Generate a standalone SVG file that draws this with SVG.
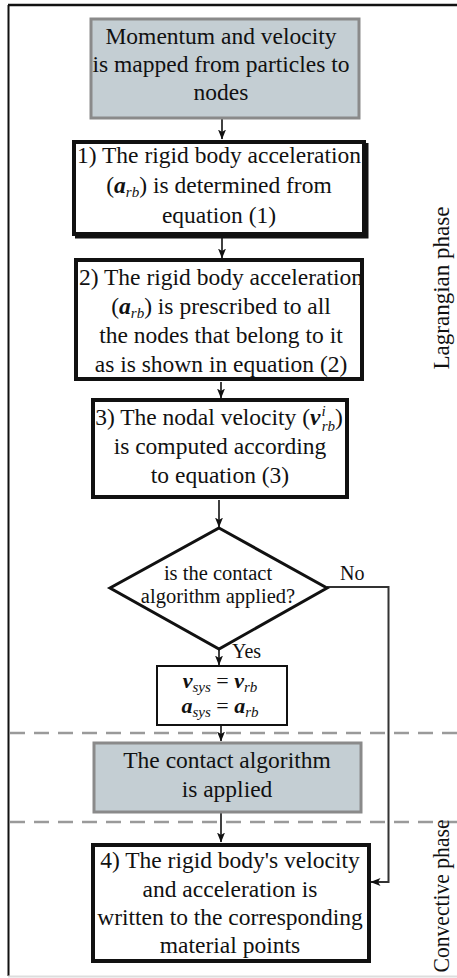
<svg xmlns="http://www.w3.org/2000/svg" width="457" height="978" viewBox="0 0 457 978">
<defs>
<marker id="ah" viewBox="0 0 10 8" refX="9.5" refY="4" markerWidth="10" markerHeight="8" markerUnits="userSpaceOnUse" orient="auto">
<path d="M0,0 L10,4 L0,8 L2.5,4 z" fill="#111"/>
</marker>
<style>
text{font-family:'Liberation Serif',Tinos,'Times New Roman',Times,'Nimbus Roman','Nimbus Roman No9 L',FreeSerif,'DejaVu Serif','Noto Serif',serif}
.t{font-size:23.5px;fill:#111;text-anchor:middle}
.s{font-size:20.5px;fill:#111;text-anchor:middle}
.lab{font-size:20px;fill:#111}
.side{font-size:23px;fill:#111;text-anchor:middle}
.bi{font-style:italic;font-weight:bold}
.sub{font-style:italic;font-size:15px}
.gray{fill:#c4ced3;stroke:#8a8a8a;stroke-width:3}
.thick{fill:#fff;stroke:#111;stroke-width:4}
.thin{fill:#fff;stroke:#111;stroke-width:2}
.sh{fill:none;stroke:#111;stroke-width:3}
.dash{stroke:#9a9a9a;stroke-width:2.5;stroke-dasharray:15 9;fill:none}
.con{stroke:#111;stroke-width:1.6;fill:none}
.conr{stroke:#333;stroke-width:2;fill:none}
</style>
</defs>
<rect x="0" y="0" width="457" height="978" fill="#fff"/>
<g id="frame">
<line x1="8" y1="5" x2="457" y2="5" stroke="#111" stroke-width="2.5"/>
<line x1="8.5" y1="5" x2="8.5" y2="976" stroke="#111" stroke-width="2"/>
<line x1="8" y1="976.5" x2="457" y2="976.5" stroke="#ddd" stroke-width="2"/>
</g>
<g id="phases">
<line class="dash" x1="10" y1="733" x2="457" y2="733"/>
<line class="dash" x1="10" y1="822" x2="457" y2="822"/>
<text class="side" transform="translate(449,288) rotate(-90)" textLength="163" lengthAdjust="spacingAndGlyphs">Lagrangian phase</text>
<text class="side" transform="translate(449,896) rotate(-90)" textLength="153" lengthAdjust="spacingAndGlyphs">Convective phase</text>
</g>
<g id="connectors">
<line class="con" x1="222" y1="119" x2="222" y2="139" marker-end="url(#ah)"/>
<line class="con" x1="222" y1="237" x2="222" y2="258" marker-end="url(#ah)"/>
<line class="con" x1="221" y1="382" x2="221" y2="398" marker-end="url(#ah)"/>
<line class="con" x1="219" y1="500" x2="219" y2="527" marker-end="url(#ah)"/>
<line class="con" x1="219" y1="650" x2="219" y2="665" marker-end="url(#ah)"/>
<line class="con" x1="221" y1="726" x2="221" y2="741" marker-end="url(#ah)"/>
<line class="con" x1="221" y1="813" x2="221" y2="842" marker-end="url(#ah)"/>
<polyline class="conr" points="327,587 388.5,587 388.5,882 371,882" marker-end="url(#ah)"/>
<text class="lab" x="340" y="580">No</text>
<text class="lab" x="232" y="658">Yes</text>
</g>
<g id="n0">
<rect class="gray" x="91" y="19" width="268" height="99"/>
<text class="t" x="221" y="44">Momentum and velocity</text>
<text class="t" x="221" y="72">is mapped from particles to</text>
<text class="t" x="221" y="100">nodes</text>
</g>
<g id="n1">
<rect class="thick" x="74" y="142" width="290" height="92"/>
<polyline class="sh" points="367,143 367,237 75,237"/>
<text class="t" x="219" y="163">1) The rigid body acceleration</text>
<text class="t" x="219" y="193">(<tspan class="bi">a</tspan><tspan class="sub" dy="4">rb</tspan><tspan dy="-4">) is determined from</tspan></text>
<text class="t" x="219" y="223">equation (1)</text>
</g>
<g id="n2">
<rect class="thick" x="76" y="260" width="286" height="119"/>
<text class="t" x="221" y="285">2) The rigid body acceleration</text>
<text class="t" x="221" y="314">(<tspan class="bi">a</tspan><tspan class="sub" dy="4">rb</tspan><tspan dy="-4">) is prescribed to all</tspan></text>
<text class="t" x="221" y="343">the nodes that belong to it</text>
<text class="t" x="221" y="372">as is shown in equation (2)</text>
</g>
<g id="n3">
<rect class="thick" x="93" y="400" width="254" height="97"/>
<text class="t" x="219" y="425">3) The nodal velocity  (<tspan class="bi">v</tspan><tspan class="sub" dx="1" dy="-9">i</tspan><tspan class="sub" dx="-4" dy="15">rb</tspan><tspan dy="-6">)</tspan></text>
<text class="t" x="220" y="454">is computed according</text>
<text class="t" x="220" y="483">to equation (3)</text>
</g>
<g id="n4">
<polygon points="219,528 327,588 219,649 110,588" fill="#fff" stroke="#111" stroke-width="3" stroke-linejoin="miter"/>
<text class="s" x="218" y="580">is the contact</text>
<text class="s" x="218" y="603">algorithm applied?</text>
</g>
<g id="n5">
<rect class="thin" x="157" y="666" width="130" height="59"/>
<text class="s" x="220" y="688" style="font-size:22px"><tspan class="bi">v</tspan><tspan class="sub" dy="4">sys</tspan><tspan dy="-4"> = </tspan><tspan class="bi">v</tspan><tspan class="sub" dy="4">rb</tspan></text>
<text class="s" x="220" y="713" style="font-size:22px"><tspan class="bi">a</tspan><tspan class="sub" dy="4">sys</tspan><tspan dy="-4"> = </tspan><tspan class="bi">a</tspan><tspan class="sub" dy="4">rb</tspan></text>
</g>
<g id="n6">
<rect class="gray" x="94" y="743" width="267" height="69"/>
<text class="t" x="227" y="768">The contact algorithm</text>
<text class="t" x="227" y="797">is applied</text>
</g>
<g id="n7">
<rect class="thick" x="93" y="845" width="276" height="116"/>
<text class="t" x="230" y="868">4) The rigid body's velocity</text>
<text class="t" x="230" y="897">and acceleration is</text>
<text class="t" x="230" y="925">written to the corresponding</text>
<text class="t" x="230" y="953">material points</text>
</g>
</svg>
